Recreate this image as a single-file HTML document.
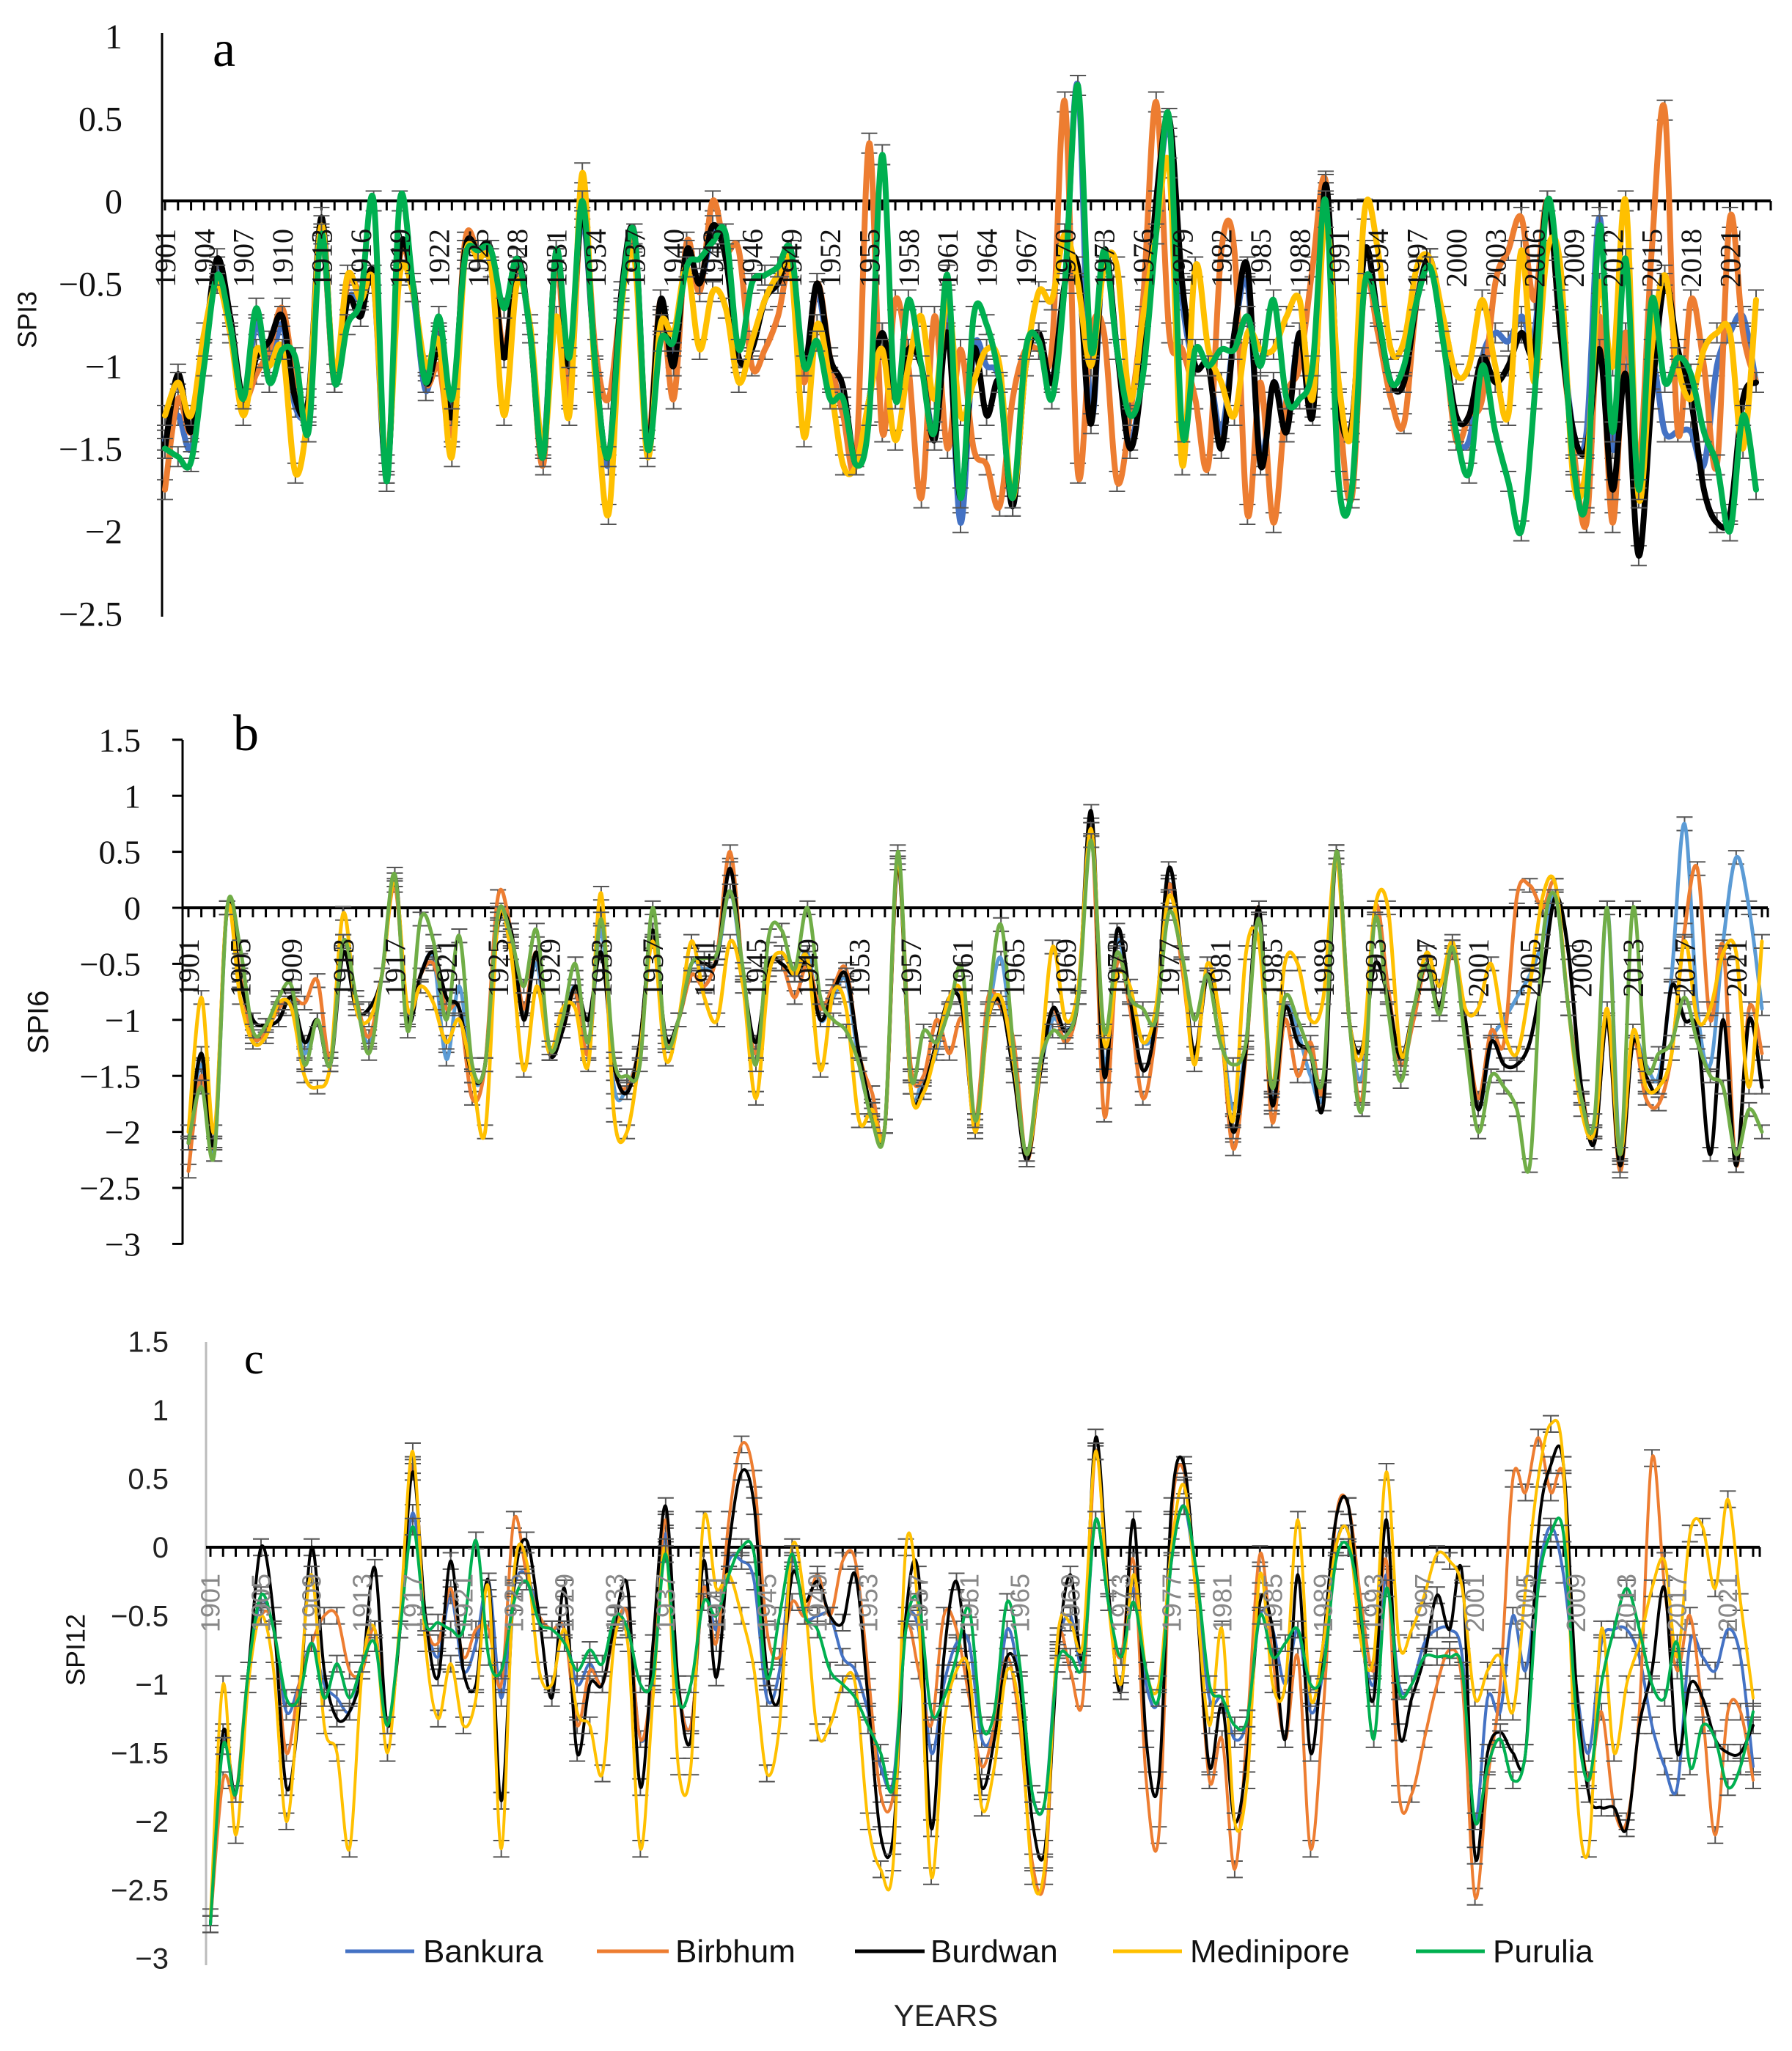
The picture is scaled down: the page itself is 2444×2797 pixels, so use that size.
<!DOCTYPE html>
<html><head><meta charset="utf-8"><style>
html,body{margin:0;padding:0;background:#fff;}
svg{display:block;}
</style></head><body>
<svg id="chart" xmlns="http://www.w3.org/2000/svg" width="2444" height="2797" viewBox="0 0 2444 2797">
<rect width="2444" height="2797" fill="#fff"/>
<g id="layer"></g>
<g font-family="Liberation Sans, sans-serif" font-size="44" fill="#111">
  <g><line x1="471" y1="2661" x2="565" y2="2661" stroke="#4472C4" stroke-width="5"/><text x="577" y="2676">Bankura</text></g>
  <g><line x1="814" y1="2661" x2="912" y2="2661" stroke="#ED7D31" stroke-width="5"/><text x="921" y="2676">Birbhum</text></g>
  <g><line x1="1166" y1="2661" x2="1261" y2="2661" stroke="#000" stroke-width="5"/><text x="1269" y="2676">Burdwan</text></g>
  <g><line x1="1518" y1="2661" x2="1612" y2="2661" stroke="#FFC000" stroke-width="5"/><text x="1623" y="2676">Medinipore</text></g>
  <g><line x1="1931" y1="2661" x2="2025" y2="2661" stroke="#00B050" stroke-width="5"/><text x="2036" y="2676">Purulia</text></g>
</g>
<text x="1290" y="2763" text-anchor="middle" font-family="Liberation Sans, sans-serif" font-size="42" fill="#222">YEARS</text>
</svg>
<script>
const startYear = 1901;
const seriesNames = ["Bankura","Birbhum","Burdwan","Medinipore","Purulia"];

const spi3Bankura = [-1.45,-1.3,-1.5,-0.9,-0.4,-0.8,-1.2,-0.75,-1.0,-0.75,-1.25,-1.2,-0.2,-1.1,-0.6,-0.6,-0.5,-1.65,-0.3,-0.55,-1.15,-0.8,-1.25,-0.35,-0.3,-0.35,-0.9,-0.4,-0.8,-1.5,-0.35,-1.0,-0.1,-1.0,-1.6,-0.6,-0.2,-1.5,-0.7,-0.95,-0.3,-0.5,-0.2,-0.3,-0.95,-0.9,-0.6,-0.5,-0.3,-1.0,-0.55,-1.0,-1.25,-1.6,-1.2,-0.8,-1.2,-0.9,-1.0,-1.4,-0.7,-1.95,-0.9,-1.0,-1.1,-1.85,-1.0,-0.8,-1.1,-0.5,0.7,-1.3,-0.3,-0.9,-1.45,-1.0,-0.1,0.45,-0.6,-1.0,-1.0,-1.4,-0.8,-0.5,-1.55,-1.1,-1.35,-0.8,-1.25,0.05,-1.2,-1.35,-0.3,-0.7,-1.1,-1.1,-0.6,-0.35,-0.8,-1.4,-1.45,-0.95,-0.8,-0.85,-0.7,-0.8,0.0,-0.7,-1.4,-1.4,-0.1,-1.5,-0.8,-1.8,-1.0,-1.4,-1.4,-1.4,-1.6,-1.0,-0.8,-0.7,-1.1];
const spi3Birbhum = [-1.75,-1.2,-1.4,-0.9,-0.45,-0.75,-1.2,-1.05,-0.9,-0.65,-1.1,-1.3,-0.2,-1.1,-0.5,-0.55,-0.5,-1.6,-0.35,-0.5,-1.1,-1.0,-1.4,-0.25,-0.3,-0.3,-0.9,-0.4,-0.8,-1.6,-0.35,-1.2,0.0,-0.9,-1.2,-0.6,-0.25,-1.45,-0.6,-1.2,-0.25,-0.55,0.0,-0.3,-0.3,-1.0,-0.9,-0.7,-0.4,-1.1,-0.5,-0.95,-1.3,-1.55,0.35,-1.4,-0.6,-1.0,-1.8,-0.7,-1.5,-0.9,-1.5,-1.6,-1.85,-1.2,-0.9,-0.9,-0.9,0.6,-1.65,-0.8,-0.8,-1.7,-1.3,-0.6,0.6,-0.8,-0.9,-1.2,-1.6,-0.3,-0.3,-1.9,-1.1,-1.95,-1.2,-1.0,-0.4,0.12,-1.2,-1.8,-0.5,-0.8,-1.2,-1.35,-0.6,-0.4,-0.8,-1.45,-1.3,-1.2,-0.5,-0.3,-0.1,-0.6,0.0,-0.8,-1.5,-1.95,-0.7,-1.95,-0.8,-1.6,-0.3,0.55,-1.4,-0.6,-1.0,-1.6,-0.1,-0.8,-1.1];
const spi3Burdwan = [-1.5,-1.05,-1.4,-0.9,-0.35,-0.7,-1.2,-0.95,-0.85,-0.7,-1.2,-1.2,-0.1,-1.1,-0.6,-0.7,-0.45,-1.65,-0.3,-0.5,-1.1,-0.9,-1.3,-0.3,-0.3,-0.3,-0.95,-0.35,-0.8,-1.55,-0.3,-1.0,-0.05,-1.0,-1.55,-0.55,-0.2,-1.5,-0.6,-1.0,-0.3,-0.5,-0.15,-0.35,-0.95,-0.9,-0.6,-0.5,-0.35,-1.0,-0.5,-0.95,-1.13,-1.6,-1.2,-0.8,-1.2,-0.9,-1.0,-1.45,-0.8,-1.8,-0.9,-1.3,-1.1,-1.85,-1.0,-0.8,-1.1,-0.5,-0.4,-1.35,-0.3,-0.9,-1.5,-1.0,0.0,0.5,-0.5,-1.0,-1.0,-1.5,-0.8,-0.4,-1.6,-1.1,-1.4,-0.8,-1.3,0.1,-1.2,-1.35,-0.3,-0.7,-1.1,-1.1,-0.6,-0.35,-0.8,-1.3,-1.3,-0.95,-1.1,-1.0,-0.8,-0.9,0.0,-0.8,-1.4,-1.5,-0.9,-1.75,-1.05,-2.15,-1.2,-0.5,-0.9,-1.2,-1.75,-1.95,-1.9,-1.2,-1.1];
const spi3Medinipore = [-1.3,-1.1,-1.3,-0.8,-0.5,-0.8,-1.3,-0.9,-1.0,-0.9,-1.65,-1.25,-0.15,-1.05,-0.45,-0.6,-0.5,-1.6,-0.45,-0.55,-1.0,-0.85,-1.55,-0.35,-0.35,-0.4,-1.3,-0.5,-0.75,-1.5,-0.7,-1.3,0.17,-1.1,-1.9,-0.65,-0.35,-1.55,-0.75,-0.8,-0.4,-0.9,-0.55,-0.65,-1.1,-0.85,-0.6,-0.45,-0.4,-1.43,-0.75,-1.1,-1.6,-1.6,-1.2,-0.9,-1.45,-1.0,-0.7,-1.2,-0.6,-1.3,-1.1,-0.9,-1.0,-1.8,-1.0,-0.55,-0.6,-0.2,-0.5,-1.0,-0.4,-0.4,-1.2,-0.7,-0.2,0.2,-1.6,-0.4,-0.9,-1.1,-1.3,-0.8,-0.9,-0.9,-0.7,-0.6,-1.2,-0.1,-1.1,-1.4,-0.05,-0.3,-0.9,-0.85,-0.4,-0.35,-0.7,-1.05,-1.0,-0.6,-1.0,-1.3,-0.3,-1.1,-0.3,-0.4,-1.7,-1.6,-0.5,-1.0,0.0,-1.8,-0.9,-0.45,-1.0,-1.2,-0.9,-0.8,-0.8,-1.5,-0.6];
const spi3Purulia = [-1.5,-1.55,-1.58,-1.0,-0.45,-0.75,-1.2,-0.65,-1.1,-0.9,-0.95,-1.4,-0.2,-1.1,-0.75,-0.6,0.0,-1.7,0.0,-0.5,-1.1,-0.7,-1.2,-0.35,-0.3,-0.3,-0.65,-0.35,-0.8,-1.55,-0.3,-0.95,0.0,-1.0,-1.55,-0.6,-0.2,-1.5,-0.85,-0.85,-0.4,-0.35,-0.25,-0.2,-0.9,-0.5,-0.45,-0.4,-0.3,-1.0,-0.85,-1.2,-1.2,-1.6,-1.3,0.28,-1.2,-0.6,-1.0,-1.4,-0.45,-1.8,-0.7,-0.75,-1.1,-1.8,-0.9,-0.85,-1.2,-0.5,0.7,-0.9,-0.3,-0.9,-1.3,-1.05,-0.2,0.5,-1.4,-0.9,-1.0,-0.9,-0.9,-0.7,-1.0,-0.6,-1.2,-1.2,-1.0,0.0,-1.7,-1.75,-0.5,-0.7,-1.1,-1.0,-0.6,-0.4,-0.85,-1.4,-1.65,-1.0,-1.4,-1.7,-2.0,-1.2,0.0,-0.6,-1.6,-1.8,-0.15,-1.4,-0.35,-1.75,-0.6,-1.1,-0.95,-1.05,-1.4,-1.6,-2.0,-1.3,-1.75];

const spi6Bankura = [-2.1,-1.4,-2.2,0.0,-0.6,-1.15,-1.1,-0.9,-0.85,-1.3,-1.0,-1.4,-0.3,-0.85,-1.2,-0.6,0.25,-1.0,-0.6,-0.45,-1.35,-0.7,-1.5,-1.4,-0.1,-0.3,-0.9,-0.5,-1.3,-1.1,-0.7,-1.3,-0.2,-1.6,-1.6,-1.2,-0.2,-1.2,-1.0,-0.5,-0.55,-0.45,0.15,-0.6,-1.3,-0.5,-0.5,-0.6,-0.4,-1.0,-0.8,-0.65,-1.4,-1.85,-1.95,0.4,-1.6,-1.5,-1.3,-0.8,-0.9,-1.95,-1.0,-0.45,-1.4,-2.25,-1.5,-1.0,-1.1,-0.8,0.7,-1.4,-0.3,-0.8,-1.2,-1.0,0.2,-0.4,-1.3,-0.6,-1.0,-1.8,-1.2,-0.1,-1.7,-0.9,-1.1,-1.5,-1.6,0.5,-1.0,-1.5,-0.1,-0.8,-1.35,-0.9,-0.5,-0.9,-0.35,-1.0,-1.8,-1.2,-1.0,-0.8,-0.6,-0.3,0.1,-0.9,-1.6,-2.0,0.0,-2.2,-1.2,-1.4,-1.5,-0.6,0.75,-0.9,-1.4,-0.3,0.45,0.0,-0.9];
const spi6Birbhum = [-2.35,-1.5,-2.1,0.0,-0.6,-1.15,-1.1,-0.9,-0.8,-0.85,-0.65,-1.35,-0.3,-0.8,-1.15,-0.6,0.2,-1.0,-0.6,-0.5,-0.9,-0.9,-1.7,-1.4,0.1,-0.2,-0.9,-0.4,-1.3,-1.1,-0.75,-1.3,-0.1,-1.4,-1.6,-1.2,-0.2,-1.2,-1.0,-0.6,-0.7,-0.4,0.5,-0.6,-1.3,-0.55,-0.5,-0.8,-0.5,-0.9,-0.7,-0.55,-1.3,-1.65,-1.95,0.4,-1.4,-1.5,-1.0,-1.3,-1.0,-1.9,-0.8,-0.9,-1.2,-2.25,-1.5,-0.9,-1.2,-0.8,0.7,-1.85,-0.5,-0.9,-1.7,-1.1,0.2,-0.5,-1.3,-0.6,-1.0,-2.15,-1.3,0.0,-1.9,-1.0,-1.5,-1.2,-1.6,0.5,-1.0,-1.7,0.0,-0.7,-1.4,-1.0,-0.5,-0.9,-0.4,-1.0,-1.7,-1.1,-1.2,0.1,0.2,0.0,0.2,-0.9,-1.6,-2.1,-1.0,-2.35,-1.2,-1.7,-1.75,-1.3,-0.2,0.35,-1.0,-0.35,-2.3,-0.9,-1.3];
const spi6Burdwan = [-2.1,-1.3,-2.1,0.0,-0.65,-1.0,-1.05,-1.0,-0.8,-1.2,-1.0,-1.4,-0.4,-0.9,-0.9,-0.6,0.3,-1.0,-0.6,-0.4,-0.8,-0.9,-1.5,-1.4,-0.15,-0.2,-1.0,-0.4,-1.3,-1.1,-0.7,-1.0,-0.4,-1.4,-1.65,-1.2,-0.2,-1.15,-1.0,-0.5,-0.5,-0.45,0.35,-0.6,-1.2,-0.5,-0.5,-0.6,-0.5,-1.0,-0.75,-0.6,-1.3,-1.8,-1.95,0.4,-1.6,-1.6,-1.2,-0.8,-0.9,-1.95,-1.0,-0.85,-1.5,-2.25,-1.5,-0.9,-1.1,-0.8,0.86,-1.5,-0.2,-0.8,-1.45,-1.0,0.35,-0.4,-1.3,-0.6,-1.0,-2.0,-1.25,0.0,-1.75,-0.9,-1.2,-1.3,-1.75,0.5,-1.0,-1.25,-0.5,-0.8,-1.35,-0.9,-0.5,-0.9,-0.35,-1.0,-1.8,-1.2,-1.4,-1.4,-1.2,-0.6,0.1,-0.4,-1.6,-2.1,-1.0,-2.3,-1.2,-1.5,-1.6,-0.7,-1.0,-1.1,-2.2,-1.0,-2.3,-1.0,-1.6];
const spi6Medinipore = [-2.0,-0.8,-2.0,0.0,-0.8,-1.2,-1.15,-0.85,-0.9,-1.5,-1.6,-1.4,-0.05,-0.9,-1.0,-0.6,0.25,-0.9,-0.7,-0.85,-1.2,-1.0,-1.5,-2.0,-0.1,-0.4,-1.45,-0.7,-1.3,-0.9,-0.9,-1.4,0.13,-1.85,-2.0,-1.3,-0.3,-1.35,-1.0,-0.3,-0.8,-1.0,-0.3,-0.7,-1.7,-0.6,-0.4,-0.6,-0.45,-1.45,-0.75,-0.9,-1.9,-1.8,-1.95,0.45,-1.6,-1.65,-1.25,-0.8,-0.8,-2.0,-1.0,-0.8,-1.4,-2.2,-1.45,-0.35,-1.0,-0.7,0.7,-1.2,-0.6,-0.7,-1.2,-0.9,0.1,-0.4,-1.4,-0.5,-1.0,-1.9,-0.4,-0.3,-1.6,-0.5,-0.5,-1.0,-0.8,0.45,-1.0,-1.3,0.0,0.0,-1.3,-0.9,-0.4,-0.7,-0.3,-0.9,-0.9,-0.5,-1.1,-1.3,-0.7,0.1,0.2,-0.9,-1.8,-2.0,-0.9,-2.2,-1.1,-1.6,-1.6,-1.3,-0.3,-1.0,-0.9,-0.4,-0.4,-1.6,-0.3];
const spi6Purulia = [-2.1,-1.6,-2.2,0.0,-0.35,-1.1,-1.05,-0.8,-0.7,-1.4,-1.0,-1.4,-0.3,-0.8,-1.3,-0.6,0.3,-1.1,-0.1,-0.3,-1.0,-0.25,-1.4,-1.4,-0.05,-0.25,-0.7,-0.2,-1.25,-1.0,-0.5,-1.2,-0.1,-1.35,-1.5,-1.4,0.0,-1.2,-1.0,-0.5,-0.45,-0.4,0.15,-0.55,-1.4,-0.25,-0.2,-0.55,0.0,-0.8,-1.0,-1.1,-1.4,-1.9,-1.95,0.5,-1.5,-1.1,-1.2,-0.9,-0.55,-1.9,-0.9,-0.15,-1.3,-2.2,-1.4,-1.1,-1.15,-0.8,0.6,-1.1,-0.4,-0.8,-0.9,-1.0,-0.05,-0.4,-1.0,-0.6,-1.2,-1.4,-1.2,-0.1,-1.6,-0.8,-1.0,-1.3,-1.5,0.5,-1.0,-1.8,-0.1,-0.9,-1.55,-0.9,-0.5,-0.95,-0.35,-1.2,-2.0,-1.5,-1.6,-1.8,-2.3,-0.3,0.1,-0.9,-1.7,-1.9,0.0,-2.2,0.0,-1.4,-1.3,-1.2,-0.8,-1.2,-1.5,-1.6,-2.2,-1.8,-2.0];

const spi12Bankura = [-2.75,-1.4,-1.8,-0.9,-0.4,-0.6,-1.2,-1.0,-0.7,-1.0,-1.1,-1.2,-0.9,-0.6,-1.3,-0.6,0.25,-0.5,-0.8,-0.35,-0.9,-0.7,-0.25,-1.1,-0.3,-0.2,-0.5,-0.6,-0.6,-1.0,-0.85,-1.0,-0.6,-0.5,-1.4,-1.0,0.1,-1.0,-1.3,-0.3,-0.6,-0.1,-0.1,-0.25,-1.1,-0.9,-0.1,-0.5,-0.5,-0.5,-0.8,-0.9,-1.2,-1.6,-1.7,-0.6,-0.6,-1.5,-1.0,-0.7,-0.7,-1.4,-1.3,-0.6,-1.0,-1.8,-1.85,-0.75,-0.5,-0.85,0.2,-0.4,-0.8,-0.3,-1.0,-1.1,-0.1,0.3,-0.3,-1.1,-1.1,-1.4,-1.25,-0.5,-0.6,-1.0,-0.6,-1.2,-0.9,0.0,0.1,-0.6,-1.0,-0.2,-1.0,-1.0,-0.7,-0.6,-0.6,-0.8,-2.0,-1.1,-1.2,-0.5,-0.9,-0.2,0.15,-0.2,-1.0,-1.5,-0.7,-0.6,-0.6,-0.8,-1.3,-1.6,-1.75,-0.7,-0.8,-0.9,-0.6,-0.8,-1.6];
const spi12Birbhum = [-2.75,-1.7,-1.8,-0.9,-0.5,-0.6,-1.5,-1.0,-0.7,-0.5,-0.5,-0.9,-0.9,-0.6,-1.3,-0.6,0.6,-0.5,-0.7,-0.3,-0.8,-0.6,-0.6,-1.0,0.2,-0.2,-0.5,-0.6,-0.6,-1.3,-0.9,-1.0,-0.6,-0.5,-1.4,-0.9,0.2,-1.0,-1.3,-0.3,-0.7,0.2,0.75,0.5,-0.6,-0.8,-0.4,-0.5,-0.2,-0.5,-0.1,-0.1,-0.9,-1.8,-1.8,-0.6,-0.9,-1.3,-0.5,-0.6,-1.1,-1.6,-1.3,-0.8,-1.3,-2.3,-2.4,-0.7,-0.9,-1.1,0.7,-0.4,-0.8,-0.1,-1.7,-2.1,0.2,0.55,-0.4,-1.7,-1.4,-2.35,-1.3,-0.05,-0.8,-1.4,-0.8,-2.2,-1.2,0.2,0.3,-0.4,-0.9,-0.1,-1.8,-1.8,-1.4,-1.0,-0.75,-1.0,-2.55,-1.7,-1.0,0.5,0.4,0.8,0.4,0.5,-1.0,-1.7,-1.2,-1.9,-2.0,-1.2,0.65,-0.3,-0.9,-0.5,-1.2,-2.1,-1.2,-1.2,-1.7];
const spi12Burdwan = [-2.75,-1.35,-1.8,-0.9,0.0,-0.5,-1.75,-1.2,0.0,-0.9,-1.25,-1.2,-0.9,-0.15,-1.3,-0.6,0.55,-0.5,-0.95,-0.1,-0.9,-1.0,-0.25,-1.85,-0.3,0.05,-0.5,-1.1,-0.3,-1.5,-1.0,-1.0,-0.55,-0.3,-1.75,-0.7,0.3,-1.0,-1.4,-0.1,-0.95,0.0,0.55,0.3,-0.9,-1.1,-0.2,-0.4,-0.25,-0.5,-0.55,-0.2,-1.1,-2.1,-2.1,-0.5,-0.2,-2.05,-0.8,-0.25,-1.0,-1.75,-1.4,-0.8,-1.0,-2.0,-2.2,-0.8,-0.2,-0.8,0.8,-0.3,-1.05,0.2,-1.4,-1.7,0.3,0.6,-0.4,-1.6,-1.15,-2.0,-1.5,-0.4,-0.6,-1.4,-0.2,-1.5,-0.7,0.2,0.3,-0.6,-1.1,0.2,-1.35,-1.1,-0.8,-0.35,-0.6,-0.2,-2.25,-1.5,-1.35,-1.5,-1.5,0.1,0.6,0.6,-1.0,-1.8,-1.9,-1.9,-2.05,-1.3,-0.9,-0.3,-1.5,-1.0,-1.1,-1.4,-1.5,-1.5,-1.3];
const spi12Medinipore = [-2.7,-1.0,-2.1,-1.0,-0.5,-0.9,-2.0,-1.1,-0.2,-1.3,-1.5,-2.2,-0.9,-0.6,-1.5,-0.5,0.7,-0.7,-1.25,-0.85,-1.3,-1.1,-0.3,-2.2,-0.2,-0.1,-0.9,-1.0,-0.6,-1.2,-1.3,-1.65,-0.65,-0.7,-2.2,-1.1,0.0,-1.6,-1.6,0.2,-0.3,-0.2,-0.5,-0.9,-1.65,-1.3,0.0,-0.4,-1.35,-1.3,-1.0,-1.0,-2.0,-2.35,-2.3,0.0,-0.5,-2.4,-1.3,-0.9,-0.9,-1.9,-1.6,-0.9,-1.2,-2.4,-2.3,-0.65,-0.55,-0.7,0.7,-0.4,-1.0,-0.2,-0.9,-1.0,0.0,0.45,-0.4,-1.3,-0.6,-2.0,-1.7,-0.2,-1.0,-1.0,0.2,-1.1,-0.7,0.0,0.1,-0.7,-0.8,0.55,-0.7,-0.6,-0.35,-0.05,-0.1,-0.3,-1.1,-0.9,-0.8,-1.2,-0.3,0.5,0.9,0.6,-1.7,-2.2,-0.6,-1.5,-1.0,-0.7,-0.3,-0.1,-0.8,0.1,0.15,-0.3,0.35,-0.4,-1.1];
const spi12Purulia = [-2.75,-1.45,-1.8,-0.9,-0.35,-0.6,-1.1,-1.1,-0.7,-1.1,-0.85,-1.1,-0.85,-0.7,-1.3,-0.6,0.15,-0.55,-0.55,-0.6,-0.6,0.05,-0.8,-0.9,-0.4,-0.25,-0.55,-0.6,-0.7,-0.9,-0.75,-0.85,-0.5,-0.6,-1.0,-0.95,-0.05,-1.1,-1.0,-0.4,-0.5,-0.2,0.0,-0.05,-0.95,-0.5,-0.05,-0.5,-0.6,-0.9,-1.0,-1.1,-1.3,-1.5,-1.75,-0.6,-0.4,-1.2,-1.1,-0.8,-0.45,-1.3,-1.2,-0.4,-0.85,-1.8,-1.85,-0.85,-0.8,-0.85,0.2,-0.4,-0.8,-0.4,-0.9,-1.1,-0.1,0.3,-0.2,-1.0,-1.1,-1.3,-1.25,-0.5,-0.8,-0.7,-0.6,-1.0,-0.9,-0.1,0.0,-0.5,-1.4,-0.3,-1.05,-1.0,-0.8,-0.8,-0.8,-0.9,-2.0,-1.6,-1.4,-1.7,-1.5,-0.3,0.1,0.1,-1.2,-1.7,-1.0,-0.6,-0.3,-0.6,-1.0,-1.1,-0.7,-1.6,-1.3,-1.4,-1.75,-1.6,-1.2];

const spi3Ticks = [1,0.5,0,-0.5,-1,-1.5,-2,-2.5];
const spi6Ticks = [1.5,1,0.5,0,-0.5,-1,-1.5,-2,-2.5,-3];
const spi12Ticks = [1.5,1,0.5,0,-0.5,-1,-1.5,-2,-2.5,-3];

const NS = "http://www.w3.org/2000/svg";
const layer = document.getElementById("layer");
function mk(tag, attrs, parent){
  const e = document.createElementNS(NS, tag);
  for (const k in attrs) e.setAttribute(k, attrs[k]);
  (parent || layer).appendChild(e);
  return e;
}
function fmt(v){ return (v<0 ? "\u2212" : "") + String(Math.abs(v)); }

const panels = [
  {key:"spi3", title:"SPI3", letter:"a", data:[spi3Bankura,spi3Birbhum,spi3Burdwan,spi3Medinipore,spi3Purulia], ticks:spi3Ticks,
   axisX:221, x0:225, x1:2395, zeroY:274, ppu:225, axisTop:45, axisBot:841, zeroEnd:2415, lw:8, step:3,
   colors:["#4472C4","#ED7D31","#000000","#FFC000","#00B050"],
   tickFont:"Liberation Serif, serif", tickSize:48, tickEnd:167, tickColor:"#111",
   yearFont:"Liberation Serif, serif", yearSize:40, yearTop:312, yearColor:"#111",
   titleX:40, titleY:436, titleSize:36, letterX:290, letterY:90, letterSize:70, axisColor:"#000", yTickMarks:false},
  {key:"spi6", title:"SPI6", letter:"b", data:[spi6Bankura,spi6Birbhum,spi6Burdwan,spi6Medinipore,spi6Purulia], ticks:spi6Ticks,
   axisX:249, x0:257, x1:2403, zeroY:1238, ppu:152.8, axisTop:1009, axisBot:1697, zeroEnd:2411, lw:5, step:4,
   colors:["#5B9BD5","#ED7D31","#000000","#FFC000","#70AD47"],
   tickFont:"Liberation Serif, serif", tickSize:46, tickEnd:192, tickColor:"#111",
   yearFont:"Liberation Serif, serif", yearSize:40, yearTop:1280, yearColor:"#111",
   titleX:55, titleY:1394, titleSize:40, letterX:318, letterY:1023, letterSize:70, axisColor:"#000", yTickMarks:true},
  {key:"spi12", title:"SPI12", letter:"c", data:[spi12Bankura,spi12Birbhum,spi12Burdwan,spi12Medinipore,spi12Purulia], ticks:spi12Ticks,
   axisX:281, x0:287, x1:2391, zeroY:2110, ppu:186.9, axisTop:1830, axisBot:2680, zeroEnd:2400, lw:4, step:4,
   colors:["#4472C4","#ED7D31","#000000","#FFC000","#00B050"],
   tickFont:"Liberation Sans, sans-serif", tickSize:40, tickEnd:230, tickColor:"#222",
   yearFont:"Liberation Sans, sans-serif", yearSize:36, yearTop:2146, yearColor:"#888",
   titleX:106, titleY:2250, titleSize:36, letterX:333, letterY:1873, letterSize:60, axisColor:"#bbb", yTickMarks:false}
];

panels.forEach(p => {
  const n = p.data[0].length;
  const xScale = i => p.x0 + i*(p.x1-p.x0)/(n-1);
  const yScale = v => p.zeroY - v*p.ppu;
  const g = mk("g", {});
  
  

  const ax = mk("line", {x1:p.axisX, y1:p.axisTop, x2:p.axisX, y2:p.axisBot, stroke:p.axisColor, "stroke-width":3}, g);
  
  

  p.ticks.forEach(t => {
    const y = yScale(t);
    const tl = mk("text", {x:p.tickEnd, y:y+p.tickSize*0.35, "text-anchor":"end", "font-family":p.tickFont, "font-size":p.tickSize, fill:p.tickColor}, g);
    tl.textContent = fmt(t);
    
    
    if (p.yTickMarks) {
      const tm = mk("line", {x1:p.axisX-14, y1:y, x2:p.axisX, y2:y, stroke:"#000", "stroke-width":3}, g);
      
      
    }
  });

  const tt = mk("text", {x:p.titleX, y:p.titleY, "text-anchor":"middle", "font-family":"Liberation Sans, sans-serif", "font-size":p.titleSize, fill:"#111", transform:`rotate(-90 ${p.titleX} ${p.titleY})`, "dominant-baseline":"middle"}, g);
  tt.textContent = p.title;
  
  

  const lt = mk("text", {x:p.letterX, y:p.letterY, "font-family":"Liberation Serif, serif", "font-size":p.letterSize, fill:"#000"}, g);
  lt.textContent = p.letter;
  
  

  const zl = mk("line", {x1:p.axisX, y1:p.zeroY, x2:p.zeroEnd, y2:p.zeroY, stroke:"#000", "stroke-width":4}, g);
  
  
  for (let i=0;i<n;i++){
    const x = xScale(i);
    const tm = mk("line", {x1:x, y1:p.zeroY, x2:x, y2:p.zeroY+13, stroke:"#000", "stroke-width":3}, g);
    
    
  }
  const endTick = mk("line", {x1:p.zeroEnd, y1:p.zeroY, x2:p.zeroEnd, y2:p.zeroY+13, stroke:"#000", "stroke-width":3}, g);
  
  

  p.data.forEach((arr, si) => {
    const pts = arr.map((v,i) => [xScale(i), yScale(v)]);
    let d = `M${pts[0][0]},${pts[0][1]}`;
    for (let i=0;i<pts.length-1;i++){
      const p0 = pts[Math.max(0,i-1)], p1 = pts[i], p2 = pts[i+1], p3 = pts[Math.min(pts.length-1,i+2)];
      const c1x = p1[0]+(p2[0]-p0[0])/6, c1y = p1[1]+(p2[1]-p0[1])/6;
      const c2x = p2[0]-(p3[0]-p1[0])/6, c2y = p2[1]-(p3[1]-p1[1])/6;
      d += ` C${c1x.toFixed(1)},${c1y.toFixed(1)} ${c2x.toFixed(1)},${c2y.toFixed(1)} ${p2[0].toFixed(1)},${p2[1].toFixed(1)}`;
    }
    const eg = mk("g", {}, g);
    
    
    const e = 0.06*p.ppu;
    pts.forEach(pt => {
      const vl = mk("line", {x1:pt[0], y1:pt[1]-e, x2:pt[0], y2:pt[1]+e, stroke:"#555", "stroke-width":2}, eg);
      
      
      const c1 = mk("line", {x1:pt[0]-11, y1:pt[1]-e, x2:pt[0]+11, y2:pt[1]-e, stroke:"#555", "stroke-width":2}, eg);
      
      
      const c2 = mk("line", {x1:pt[0]-11, y1:pt[1]+e, x2:pt[0]+11, y2:pt[1]+e, stroke:"#555", "stroke-width":2}, eg);
      
      
    });
    const path = mk("path", {d:d, fill:"none", stroke:p.colors[si], "stroke-width":p.lw, "stroke-linejoin":"round", "stroke-linecap":"round"}, g);
    
    
  });

  for (let i=0;i<n;i+=p.step){
    const x = xScale(i) + p.yearSize*0.35;
    const y = p.yearTop;
    const yl = mk("text", {x:x, y:y, "text-anchor":"end", "font-family":p.yearFont, "font-size":p.yearSize, fill:p.yearColor, transform:`rotate(-90 ${x} ${y})`}, g);
    yl.textContent = String(startYear + i);
    
    
  }
});
</script>
</body></html>
